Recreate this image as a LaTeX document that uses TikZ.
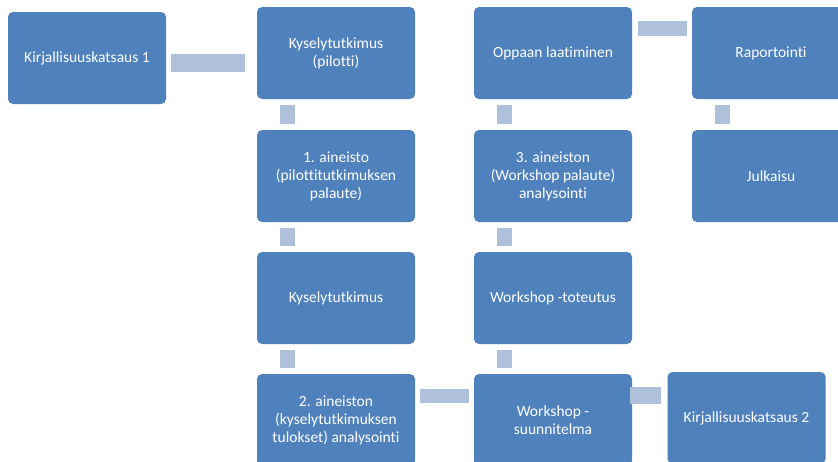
\documentclass[tikz,border=0pt]{standalone}
\usepackage{fontspec}
\setmainfont[Ligatures={NoCommon}]{Carlito}
\usetikzlibrary{calc}
\definecolor{boxblue}{HTML}{4F81BD}
\definecolor{barblue}{HTML}{AFC0DB}
\begin{document}
\begin{tikzpicture}[x=1pt,y=1pt,
  blk/.style={fill=boxblue,draw=none,rounded corners=5pt,minimum width=158pt,minimum height=92pt,inner sep=0pt,
    text=white,align=center,font=\fontsize{15.5}{18}\selectfont},
  bar/.style={draw=barblue,line width=#1},
  bar/.default=15pt]
\useasboundingbox (0,0) rectangle (838,-461);
\begin{scope}
\clip (0,0) rectangle (838,-461);
\node[blk] (k1) at (87,-58) {Kirjallisuuskatsaus 1};
\node[blk] (a1) at (336,-53) {Kyselytutkimus\\(pilotti)};
\node[blk] (a2) at (336,-176) {1. aineisto\\(pilottitutkimuksen\\palaute)};
\node[blk] (a3) at (336,-298) {Kyselytutkimus};
\node[blk] (a4) at (336,-420) {2. aineiston\\(kyselytutkimuksen\\tulokset) analysointi};
\node[blk] (b1) at (553,-53) {Oppaan laatiminen};
\node[blk] (b2) at (553,-176) {3. aineiston\\(Workshop palaute)\\analysointi};
\node[blk] (b3) at (553,-298) {Workshop -toteutus};
\node[blk] (b4) at (553,-420) {Workshop -\\suunnitelma};
\node[blk] (c1) at (771,-53) {Raportointi};
\node[blk] (c2) at (771,-176) {Julkaisu};
\node[blk] (k2) at (746.5,-418) {Kirjallisuuskatsaus 2};
% horizontal bars
\draw[bar=18pt] ($(k1.east)+(5pt,-5pt)$) -- ($(a1.west |- k1.east)+(-12pt,-5pt)$);
\draw[bar] ($(b1.east)+(6pt,24.5pt)$) -- ($(c1.west)+(-5pt,24.5pt)$);
\draw[bar=14pt] ($(a4.east)+(5pt,24pt)$) -- ($(b4.west)+(-5pt,24pt)$);
\draw[bar=17pt] ($(b4.east)+(-2pt,24.5pt)$) -- ($(k2.west |- b4.east)+(-6pt,24.5pt)$);
% vertical bars
\foreach \u/\l in {a1/a2,a2/a3,a3/a4,b1/b2,b2/b3,b3/b4,c1/c2}{
  \draw[bar] ($(\u.south)+(-48.5pt,-6pt)$) -- ($(\l.north)+(-48.5pt,6pt)$);
}
\end{scope}
\end{tikzpicture}
\end{document}
